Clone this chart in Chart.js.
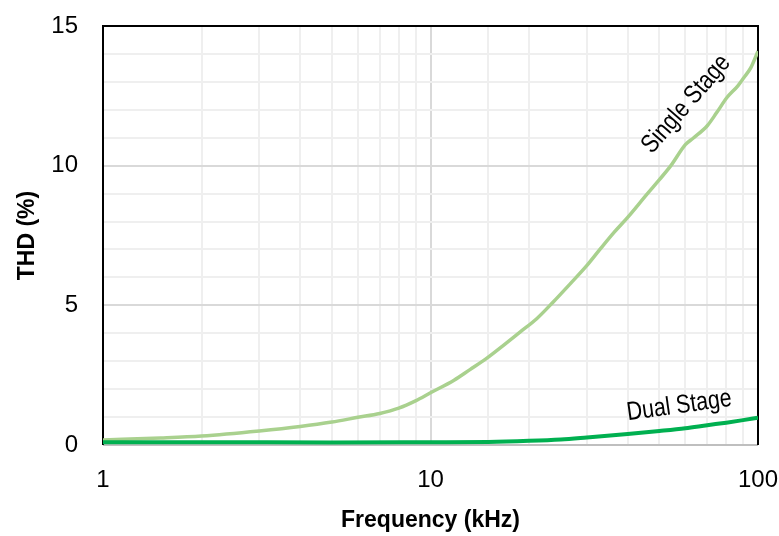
<!DOCTYPE html>
<html>
<head>
<meta charset="utf-8">
<script src="https://cdn.jsdelivr.net/npm/chart.js@4.4.1/dist/chart.umd.min.js"></script>
<style>
  html, body { margin: 0; padding: 0; background: #ffffff; }
  canvas { display: block; }
</style>
</head>
<body>
<canvas id="thd" width="779" height="536"></canvas>
<script>
// Frequency points (kHz) and THD (%) for each amplifier topology
const singleFreq = [1, 1.5, 2, 3, 4, 5, 6, 7, 8, 9, 10, 11.8, 13.2, 14.9, 16.7, 18.8, 21.1, 23.7, 26.7, 30, 33, 36.4, 40, 45.9, 50, 54.2, 60, 63.5, 70, 74.8, 80.4, 86.8, 90.5, 95.1, 100];
const singleTHD  = [0.18, 0.25, 0.32, 0.5, 0.66, 0.82, 0.99, 1.13, 1.32, 1.58, 1.87, 2.32, 2.7, 3.12, 3.57, 4.05, 4.52, 5.12, 5.77, 6.42, 7.02, 7.62, 8.15, 8.99, 9.5, 10.0, 10.75, 10.99, 11.43, 11.9, 12.44, 12.86, 13.15, 13.51, 14.1];

const dualFreq = [1, 2, 5, 10, 15, 20, 25, 30, 40, 50, 60, 70, 80, 90, 100];
const dualTHD  = [0.1, 0.1, 0.09, 0.1, 0.11, 0.15, 0.2, 0.27, 0.39, 0.5, 0.6, 0.71, 0.8, 0.89, 0.98];

const xTickLabels = [1, 10, 100];
const yTickLabels = [0, 5, 10, 15];

const seriesNames = ['Dual Stage', 'Single Stage'];
// Where each curve's name is written: [frequency, THD, rotation in degrees]
const nameAnchors = [[57.5, 1.4, -8], [60.4, 12.2, -49]];

const FONT = '"Liberation Sans", Arial, sans-serif';

const toPoints = (xs, ys) => xs.map((x, i) => ({ x: x, y: ys[i] }));

// Keep the plot rectangle fixed: no extra room reserved for overhanging tick labels
function noOverhang(scale) {
  scale.paddingLeft = 0;
  scale.paddingRight = 0;
  scale.paddingTop = 0;
  scale.paddingBottom = 0;
}

// Plot frame: black on three sides, grey baseline at THD = 0
const frame = {
  id: 'frame',
  beforeDatasetsDraw(chart) {
    const { ctx, chartArea: a } = chart;
    ctx.save();
    ctx.lineWidth = 2;
    ctx.strokeStyle = '#bfbfbf';
    ctx.beginPath();
    ctx.moveTo(a.left, a.bottom);
    ctx.lineTo(a.right, a.bottom);
    ctx.stroke();
    ctx.strokeStyle = '#000000';
    ctx.beginPath();
    ctx.moveTo(a.left, a.bottom);
    ctx.lineTo(a.left, a.top);
    ctx.lineTo(a.right, a.top);
    ctx.lineTo(a.right, a.bottom);
    ctx.stroke();
    ctx.restore();
  }
};

// Curve names written along each line, in a slightly condensed face
const seriesLabels = {
  id: 'seriesLabels',
  afterDatasetsDraw(chart) {
    const { ctx, scales } = chart;
    ctx.save();
    ctx.fillStyle = '#000000';
    ctx.font = '26px ' + FONT;
    ctx.textAlign = 'center';
    ctx.textBaseline = 'middle';
    nameAnchors.forEach((p, i) => {
      const px = scales.x.getPixelForValue(p[0]);
      const py = scales.y.getPixelForValue(p[1]);
      ctx.save();
      ctx.translate(px, py);
      ctx.rotate(p[2] * Math.PI / 180);
      ctx.scale(0.82, 1);
      ctx.fillText(seriesNames[i], 0, 0);
      ctx.restore();
    });
    ctx.restore();
  }
};

new Chart(document.getElementById('thd'), {
  type: 'line',
  data: {
    datasets: [
      {
        label: seriesNames[0],
        data: toPoints(dualFreq, dualTHD),
        borderColor: '#00b050',
        borderWidth: 4,
        pointRadius: 0,
        cubicInterpolationMode: 'monotone',
        fill: false
      },
      {
        label: seriesNames[1],
        data: toPoints(singleFreq, singleTHD),
        borderColor: '#a9d18e',
        borderWidth: 3.5,
        pointRadius: 0,
        cubicInterpolationMode: 'monotone',
        fill: false
      }
    ]
  },
  options: {
    responsive: false,
    devicePixelRatio: 1,
    animation: false,
    layout: { padding: { left: 0, right: 21, top: 26, bottom: 0 } },
    plugins: {
      legend: { display: false },
      tooltip: { enabled: false }
    },
    scales: {
      x: {
        type: 'logarithmic',
        min: 1,
        max: 100,
        afterFit(scale) { scale.height = 91; noOverhang(scale); },
        border: { display: false },
        grid: {
          drawTicks: false,
          tickLength: 0,
          lineWidth: 2,
          color: (c) => (c.tick && c.tick.value === 10) ? '#d9d9d9' : '#efefef'
        },
        ticks: {
          autoSkip: false,
          maxRotation: 0,
          padding: 21,
          color: '#000000',
          font: { family: FONT, size: 24 },
          callback: (v) => xTickLabels.includes(v) ? String(v) : ''
        },
        title: {
          display: true,
          text: 'Frequency (kHz)',
          color: '#000000',
          font: { family: FONT, size: 23, weight: 'bold' },
          padding: { top: 0, bottom: 2 }
        }
      },
      y: {
        type: 'linear',
        min: 0,
        max: 15,
        afterFit(scale) { scale.width = 103; noOverhang(scale); },
        border: { display: false },
        grid: {
          drawTicks: false,
          tickLength: 0,
          lineWidth: 2,
          color: (c) => (c.tick && c.tick.value % 5 === 0) ? '#d9d9d9' : '#efefef'
        },
        ticks: {
          stepSize: 1,
          autoSkip: false,
          padding: 25,
          color: '#000000',
          font: { family: FONT, size: 24 },
          callback: (v) => yTickLabels.includes(v) ? String(v) : ''
        },
        title: {
          display: true,
          text: 'THD (%)',
          color: '#000000',
          font: { family: FONT, size: 23, weight: 'bold' },
          padding: { top: 14, bottom: 0 }
        }
      }
    }
  },
  plugins: [frame, seriesLabels]
});
</script>
</body>
</html>
